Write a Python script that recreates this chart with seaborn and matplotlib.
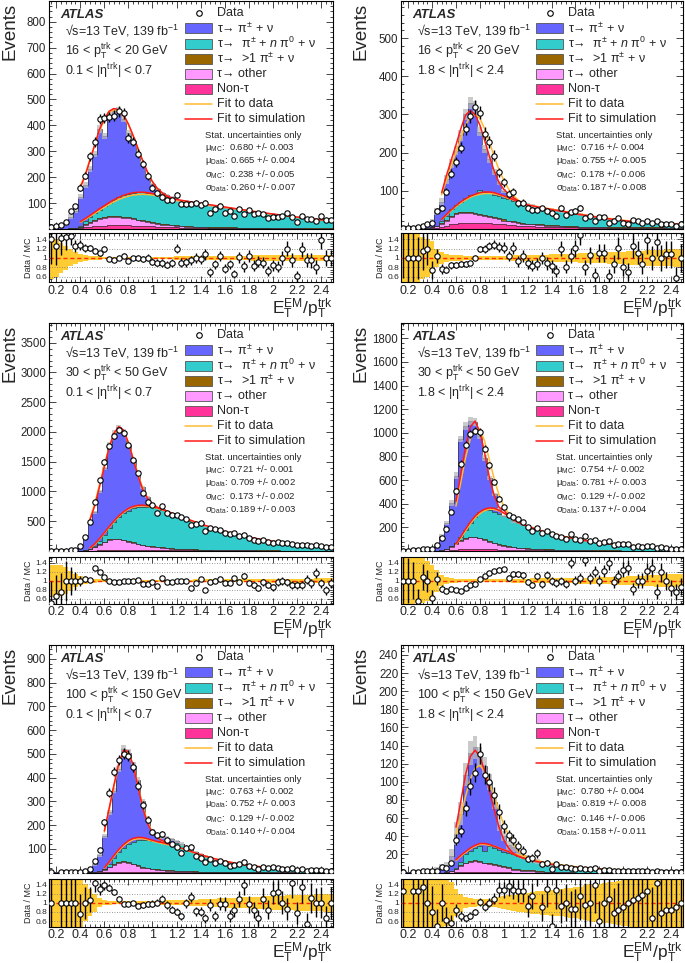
"""
plot.py - E_T^EM / p_T^trk response of isolated tracks (ATLAS-style, 6 panels).
Writes out.png
"""
import matplotlib
matplotlib.use("Agg")
import matplotlib.pyplot as plt
from matplotlib.patches import Rectangle
from matplotlib.ticker import MultipleLocator, AutoMinorLocator, FuncFormatter
import numpy as np
import seaborn as sns

sns.set_theme(style="ticks")
plt.rcParams.update({
    "font.family": ["Liberation Sans", "DejaVu Sans"],
    "mathtext.fontset": "custom",
    "mathtext.rm": "Liberation Sans",
    "mathtext.it": "Liberation Sans:italic",
    "mathtext.bf": "Liberation Sans:bold",
    "mathtext.default": "regular",
    "axes.edgecolor": "black",
    "axes.linewidth": 0.8,
})

# ── Binning (59 bins of 0.04) ────────────────────────────────────────────────
bin_edges = np.round(np.linspace(0.14, 2.50, 60), 2)
bin_centres = 0.5 * (bin_edges[:-1] + bin_edges[1:])

fit_x_040 = [0.40, 0.44, 0.48, 0.52, 0.56, 0.60, 0.64, 0.68, 0.72, 0.76, 0.80, 0.84, 0.88,
             0.92, 0.96, 1.00, 1.04, 1.08, 1.12, 1.16, 1.20,
             1.3, 1.4, 1.5, 1.6, 1.7, 1.8, 1.9, 2.0, 2.1, 2.2, 2.3, 2.4, 2.48]
fit_x_048 = [0.48, 0.52, 0.56, 0.60, 0.64, 0.68, 0.72, 0.76, 0.80, 0.84, 0.88,
             0.92, 0.96, 1.00, 1.04, 1.08, 1.12, 1.16, 1.20,
             1.3, 1.4, 1.5, 1.6, 1.7, 1.8, 1.9, 2.0, 2.1, 2.2, 2.3, 2.4, 2.48]
fit_x_060 = [0.60, 0.64, 0.68, 0.72, 0.76, 0.80, 0.84, 0.88,
             0.92, 0.96, 1.00, 1.04, 1.08, 1.12, 1.16, 1.20,
             1.3, 1.4, 1.5, 1.6, 1.7, 1.8, 1.9, 2.0, 2.1, 2.2, 2.3, 2.4, 2.48]

# ── Panel a: 16-20 GeV, 0.1<|eta|<0.7 ───────────────────────────────────────
a_data = [7, 10, 17, 26, 70, 88, 160, 206, 281, 336,
          425, 428, 432, 437, 455, 446, 350, 337, 290, 250,
          205, 160, 140, 125, 112, 110, 132, 97, 96, 98,
          100, 94, 101, 63, 76, 89, 63, 69, 51, 76,
          59, 73, 56, 60, 56, 43, 48, 45, 52, 60,
          46, 28, 52, 40, 38, 31, 50, 34, 33]
a_pi = [5, 8, 12, 17, 46, 65, 113, 140, 187, 230,
        310, 272, 340, 343, 336, 295, 236, 200, 147, 113,
        65, 37, 22, 12, 6, 2, 0, 0, 0, 0,
        0, 0, 0, 0, 0, 0, 0, 0, 0, 0,
        0, 0, 0, 0, 0, 0, 0, 0, 0, 0,
        0, 0, 0, 0, 0, 0, 0, 0, 0]
a_pi_pi0 = [0, 0, 0, 0, 0, 0, 4, 12, 18, 25,
            32, 41, 50, 60, 71, 82, 91, 99, 106, 108,
            110, 111, 110, 108, 106, 103, 95, 95, 95, 93,
            91, 88, 86, 84, 81, 78, 75, 74, 71, 70,
            67, 65, 62, 61, 58, 56, 54, 52, 49, 47,
            45, 43, 41, 40, 38, 36, 34, 32, 31]
a_multi = [0, 0, 0, 0, 0, 1, 1, 2, 3, 3,
           4, 4, 4, 4, 4, 4, 4, 4, 3, 3,
           3, 3, 3, 3, 3, 3, 3, 3, 2, 2,
           2, 2, 2, 2, 2, 2, 2, 2, 2, 2,
           2, 2, 2, 1, 1, 1, 1, 1, 1, 1,
           1, 1, 1, 1, 1, 1, 1, 1, 1]
a_other = [0, 0, 0, 0, 1, 2, 4, 10, 16, 22,
           27, 30, 32, 33, 32, 30, 27, 24, 21, 18,
           15, 13, 11, 9, 8, 7, 6, 5, 4, 4,
           3, 3, 3, 2, 2, 2, 2, 2, 2, 1,
           1, 1, 1, 1, 1, 1, 1, 1, 1, 1,
           1, 1, 1, 0, 0, 0, 0, 0, 0]
a_nontau = [0, 0, 0, 1, 1, 2, 3, 6, 8, 10,
            12, 13, 14, 15, 15, 14, 14, 13, 12, 12,
            11, 10, 9, 8, 7, 7, 6, 5, 5, 4,
            4, 4, 3, 3, 3, 3, 3, 2, 2, 2,
            2, 2, 2, 2, 2, 2, 1, 1, 1, 1,
            1, 1, 1, 1, 1, 1, 1, 1, 1]
a_mc_err = [45, 40, 32, 25, 18, 12, 8, 6, 5, 4,
            4, 3, 3, 3, 3, 3, 3, 3, 3, 3,
            3, 3, 3, 3, 3, 3, 5, 4, 4, 4,
            4, 4, 4, 5, 5, 5, 5, 5, 5, 5,
            5, 5, 6, 6, 6, 6, 6, 6, 6, 6,
            7, 6, 6, 6, 7, 7, 7, 7, 7]
a_fit_mc_hi = [160, 205, 265, 325, 385, 425, 455, 465, 460, 440, 405, 360, 310, 262, 218, 182,
               157, 140, 128, 120, 114, 106, 99, 92, 85, 78, 71, 64, 58, 52, 46, 41, 36, 33]
a_fit_mc_lo = [28, 40, 52, 65, 78, 90, 102, 113, 122, 130, 136, 140, 142, 142, 140, 137,
               133, 128, 124, 119, 114]
a_fit_data_hi = [165, 210, 268, 325, 380, 420, 450, 460, 455, 435, 402, 358, 310, 262, 218, 182,
                 155, 137, 125, 117, 111, 104, 98, 91, 84, 77, 70, 63, 57, 51, 45, 40, 35, 32]
a_fit_data_lo = [26, 37, 48, 60, 72, 84, 95, 105, 114, 121, 127, 131, 133, 134, 133, 131,
                 128, 124, 120, 116, 111]
a_stats = ["0.680 +/- 0.003", "0.665 +/- 0.004", "0.238 +/- 0.005", "0.260 +/- 0.007"]

# ── Panel b: 16-20 GeV, 1.8<|eta|<2.4 ───────────────────────────────────────
b_data = [2, 2, 3, 5, 8, 12, 15, 48, 55, 98,
          145, 176, 213, 262, 295, 320, 305, 250, 228, 192,
          148, 122, 92, 97, 67, 69, 56, 50, 50, 54,
          46, 41, 35, 55, 36, 44, 47, 55, 28, 35,
          20, 32, 31, 16, 21, 28, 17, 14, 24, 20,
          15, 22, 15, 20, 14, 14, 14, 7, 12]
b_pi = [1, 2, 3, 5, 6, 8, 15, 38, 52, 95,
        120, 143, 173, 218, 242, 226, 153, 114, 89, 60,
        34, 18, 10, 6, 2, 0, 0, 0, 0, 0,
        0, 0, 0, 0, 0, 0, 0, 0, 0, 0,
        0, 0, 0, 0, 0, 0, 0, 0, 0, 0,
        0, 0, 0, 0, 0, 0, 0, 0, 0]
b_pi_pi0 = [0, 0, 0, 0, 0, 0, 0, 0, 5, 11,
            17, 21, 28, 38, 44, 50, 62, 59, 59, 59,
            58, 57, 56, 54, 52, 50, 49, 46, 45, 42,
            42, 40, 38, 37, 36, 35, 32, 31, 29, 27,
            25, 23, 23, 22, 20, 19, 17, 16, 15, 14,
            13, 12, 11, 11, 10, 10, 10, 9, 9]
b_multi = [0, 0, 0, 0, 0, 0, 1, 1, 2, 2,
           3, 3, 3, 3, 3, 3, 3, 3, 3, 3,
           3, 3, 2, 2, 2, 2, 2, 2, 2, 2,
           2, 2, 2, 2, 2, 1, 1, 1, 1, 1,
           1, 1, 1, 1, 1, 1, 1, 1, 1, 1,
           1, 1, 1, 1, 1, 1, 1, 1, 1]
b_other = [0, 0, 0, 0, 0, 1, 2, 4, 8, 14,
           20, 24, 26, 25, 24, 22, 20, 18, 16, 14,
           12, 10, 9, 8, 7, 6, 5, 5, 4, 4,
           3, 3, 3, 3, 2, 2, 2, 2, 2, 2,
           2, 2, 1, 1, 1, 1, 1, 1, 1, 1,
           1, 1, 1, 1, 1, 1, 1, 1, 1]
b_nontau = [0, 0, 0, 0, 1, 1, 2, 3, 5, 8,
            12, 14, 15, 16, 17, 17, 17, 16, 15, 14,
            13, 12, 11, 10, 9, 8, 7, 7, 6, 6,
            5, 5, 5, 4, 4, 4, 4, 3, 3, 3,
            3, 3, 3, 2, 2, 2, 2, 2, 2, 2,
            2, 2, 2, 2, 2, 1, 1, 1, 1]
b_mc_err = [60, 60, 55, 50, 45, 40, 35, 20, 12, 9,
            7, 6, 6, 5, 5, 5, 5, 5, 5, 5,
            5, 5, 5, 6, 6, 6, 7, 7, 7, 7,
            7, 8, 8, 8, 9, 9, 9, 10, 10, 10,
            11, 11, 11, 12, 12, 12, 13, 14, 14, 15,
            15, 16, 16, 17, 17, 18, 18, 19, 20]
b_fit_mc_hi = [95, 140, 180, 220, 262, 298, 310, 300, 272, 232, 190, 152, 122, 104, 92, 82,
               74, 68, 63, 57, 51, 46, 40, 35, 30, 26, 22, 19, 17, 15, 13, 12]
b_fit_mc_lo = [25, 38, 50, 61, 71, 79, 86, 91, 95, 97, 97, 95, 91, 87, 82, 77, 72, 68, 63]
b_fit_data_hi = [90, 128, 165, 200, 238, 272, 295, 300, 290, 262, 228, 190, 155, 128, 105, 88,
                 76, 68, 63, 58, 52, 47, 41, 36, 31, 27, 23, 20, 18, 16, 14, 13]
b_fit_data_lo = [24, 36, 48, 59, 68, 76, 83, 88, 91, 93, 93, 92, 89, 85, 80, 76, 72, 68, 63]
b_stats = ["0.716 +/- 0.004", "0.755 +/- 0.005", "0.178 +/- 0.006", "0.187 +/- 0.008"]

# ── Panel c: 30-50 GeV, 0.1<|eta|<0.7 ───────────────────────────────────────
c_data = [1, 2, 3, 5, 10, 25, 80, 240, 480, 830,
          1200, 1500, 1760, 1930, 2030, 1980, 1775, 1530, 1310, 980,
          830, 765, 645, 750, 645, 610, 600, 570, 540, 430,
          460, 465, 330, 385, 370, 355, 305, 285, 295, 252,
          270, 217, 190, 165, 178, 155, 136, 146, 140, 126,
          110, 103, 96, 102, 89, 103, 78, 61, 70]
c_pi = [2, 3, 4, 5, 10, 25, 77, 219, 439, 570,
        840, 1120, 1410, 1505, 1515, 1380, 1100, 815, 565, 325,
        155, 45, 15, 5, 0, 0, 0, 0, 0, 0,
        0, 0, 0, 0, 0, 0, 0, 0, 0, 0,
        0, 0, 0, 0, 0, 0, 0, 0, 0, 0,
        0, 0, 0, 0, 0, 0, 0, 0, 0]
c_pi_pi0 = [0, 0, 0, 0, 0, 0, 0, 0, 0, 13,
            47, 111, 186, 273, 361, 441, 512, 569, 610, 637,
            653, 655, 645, 635, 612, 583, 559, 533, 507, 480,
            453, 425, 397, 374, 351, 327, 304, 284, 265, 249,
            233, 216, 201, 188, 175, 162, 151, 141, 132, 124,
            115, 108, 101, 94, 88, 82, 78, 73, 69]
c_multi = [0, 0, 0, 0, 0, 0, 0, 1, 2, 4,
           6, 8, 9, 10, 10, 10, 10, 9, 9, 8,
           8, 7, 7, 6, 6, 6, 5, 5, 5, 4,
           4, 4, 4, 3, 3, 3, 3, 3, 3, 2,
           2, 2, 2, 2, 2, 2, 2, 2, 2, 1,
           1, 1, 1, 1, 1, 1, 1, 1, 1]
c_other = [0, 0, 0, 0, 0, 0, 2, 8, 25, 55,
           95, 135, 165, 175, 170, 155, 135, 115, 95, 80,
           65, 55, 46, 38, 32, 27, 23, 20, 17, 15,
           13, 11, 10, 9, 8, 7, 6, 6, 5, 5,
           4, 4, 4, 3, 3, 3, 3, 3, 2, 2,
           2, 2, 2, 2, 2, 2, 1, 1, 1]
c_nontau = [0, 0, 0, 0, 0, 0, 1, 2, 4, 8,
            12, 16, 20, 22, 24, 24, 23, 22, 21, 20,
            19, 18, 17, 16, 15, 14, 13, 12, 11, 11,
            10, 10, 9, 9, 8, 8, 7, 7, 7, 6,
            6, 6, 5, 5, 5, 5, 4, 4, 4, 4,
            4, 3, 3, 3, 3, 3, 3, 3, 3]
c_mc_err = [35, 35, 35, 30, 22, 15, 10, 7, 5, 4,
            3, 2, 2, 2, 2, 2, 2, 2, 2, 2,
            2, 2, 2, 2, 2, 2, 2, 2, 2, 2,
            3, 3, 3, 3, 3, 3, 3, 3, 3, 3,
            3, 3, 3, 3, 3, 3, 4, 4, 4, 4,
            4, 4, 4, 4, 4, 5, 5, 5, 5]
c_fit_mc_hi = [520, 760, 1080, 1420, 1740, 1980, 2090, 2030, 1820, 1540, 1260, 1030, 880, 790,
               735, 700, 668, 635, 605, 530, 455, 390, 330, 278, 233, 196, 165, 138, 116, 98,
               83, 74]
c_fit_mc_lo = [50, 120, 210, 310, 410, 505, 590, 660, 715, 750, 768, 770, 760, 745, 725, 700,
               668, 635, 605]
c_fit_data_hi = [540, 800, 1120, 1450, 1750, 1960, 2050, 2000, 1820, 1560, 1290, 1050, 890, 790,
                 730, 695, 662, 630, 600, 525, 450, 386, 327, 275, 231, 194, 163, 136, 115, 97,
                 82, 73]
c_fit_data_lo = [45, 110, 200, 300, 398, 492, 578, 648, 702, 738, 755, 758, 750, 736, 718, 695,
                 662, 630, 600]
c_stats = ["0.721 +/- 0.001", "0.709 +/- 0.002", "0.173 +/- 0.002", "0.189 +/- 0.003"]

# ── Panel d: 30-50 GeV, 1.8<|eta|<2.4 ───────────────────────────────────────
d_data = [3, 4, 6, 5, 13, 16, 15, 52, 107, 185,
          331, 511, 739, 899, 992, 1020, 1006, 865, 725, 584,
          444, 374, 303, 289, 270, 246, 199, 171, 194, 150,
          171, 140, 124, 121, 105, 148, 99, 97, 125, 84,
          89, 69, 78, 84, 54, 57, 60, 58, 34, 39,
          36, 40, 40, 22, 32, 26, 21, 18, 20]
d_pi = [3, 4, 6, 9, 12, 16, 24, 47, 121, 216,
        364, 569, 827, 885, 865, 805, 647, 441, 275, 149,
        43, 4, 0, 0, 0, 0, 0, 0, 0, 0,
        0, 0, 0, 0, 0, 0, 0, 0, 0, 0,
        0, 0, 0, 0, 0, 0, 0, 0, 0, 0,
        0, 0, 0, 0, 0, 0, 0, 0, 0]
d_pi_pi0 = [0, 0, 0, 0, 0, 0, 0, 0, 0, 0,
            0, 6, 30, 64, 113, 168, 216, 246, 262, 260,
            253, 246, 245, 216, 206, 195, 183, 171, 158, 148,
            137, 127, 119, 110, 103, 97, 91, 85, 79, 73,
            69, 64, 59, 55, 51, 47, 44, 41, 39, 36,
            33, 30, 28, 26, 24, 23, 22, 21, 20]
d_multi = [0, 0, 0, 0, 0, 0, 0, 0, 1, 2,
           3, 4, 5, 6, 6, 6, 6, 6, 5, 5,
           5, 4, 4, 4, 3, 3, 3, 3, 3, 2,
           2, 2, 2, 2, 2, 2, 2, 1, 1, 1,
           1, 1, 1, 1, 1, 1, 1, 1, 1, 1,
           1, 1, 1, 1, 1, 1, 1, 1, 1]
d_other = [0, 0, 0, 0, 0, 0, 0, 2, 6, 15,
           30, 50, 72, 90, 100, 100, 92, 78, 64, 52,
           42, 34, 27, 22, 18, 15, 12, 10, 9, 8,
           7, 6, 5, 5, 4, 4, 3, 3, 3, 3,
           2, 2, 2, 2, 2, 2, 1, 1, 1, 1,
           1, 1, 1, 1, 1, 1, 1, 1, 1]
d_nontau = [0, 0, 0, 0, 0, 0, 0, 1, 2, 4,
            7, 10, 13, 15, 16, 16, 16, 15, 14, 13,
            12, 11, 10, 9, 8, 7, 7, 6, 6, 5,
            5, 5, 4, 4, 4, 3, 3, 3, 3, 3,
            2, 2, 2, 2, 2, 2, 2, 2, 1, 1,
            1, 1, 1, 1, 1, 1, 1, 1, 1]
d_mc_err = [60, 60, 55, 50, 50, 45, 35, 25, 12, 8,
            6, 4, 3, 3, 3, 3, 3, 3, 3, 3,
            3, 3, 3, 4, 4, 4, 4, 5, 5, 5,
            5, 5, 6, 6, 6, 6, 6, 7, 7, 7,
            7, 8, 8, 8, 9, 9, 9, 10, 10, 11,
            11, 12, 12, 13, 13, 14, 14, 15, 15]
d_fit_mc_hi = [420, 650, 880, 1050, 1100, 1010, 830, 620, 470, 370, 345, 300, 268, 245, 226, 210,
               175, 145, 122, 102, 86, 72, 60, 50, 42, 36, 30, 26, 23]
d_fit_mc_lo = [60, 120, 185, 245, 295, 332, 355, 365, 362, 345, 322, 296, 266, 245, 226, 210]
d_fit_data_hi = [380, 580, 790, 950, 1030, 1030, 930, 770, 610, 475, 380, 318, 278, 250, 228,
                 211, 177, 147, 124, 104, 88, 74, 62, 52, 44, 37, 31, 27, 24]
d_fit_data_lo = [55, 110, 170, 230, 280, 318, 342, 354, 352, 340, 320, 296, 270, 248, 228, 211]
d_stats = ["0.754 +/- 0.002", "0.781 +/- 0.003", "0.129 +/- 0.002", "0.137 +/- 0.004"]

# ── Panel e: 100-150 GeV, 0.1<|eta|<0.7 ─────────────────────────────────────
e_data = [1, 0, 1, 2, 2, 3, 3, 8, 16, 50,
          94, 211, 336, 425, 475, 500, 492, 445, 366, 285,
          223, 172, 158, 161, 138, 119, 106, 84, 105, 109,
          70, 61, 44, 57, 38, 47, 42, 28, 31, 37,
          43, 27, 22, 16, 24, 17, 22, 21, 16, 13,
          20, 10, 16, 6, 11, 10, 9, 6, 8]
e_pi = [1, 1, 1, 2, 2, 3, 4, 8, 13, 32,
        64, 139, 218, 285, 351, 415, 385, 320, 254, 162,
        93, 41, 26, 18, 17, 14, 8, 0, 0, 0,
        0, 0, 0, 0, 0, 0, 0, 0, 0, 0,
        0, 0, 0, 0, 0, 0, 0, 0, 0, 0,
        0, 0, 0, 0, 0, 0, 0, 0, 0]
e_pi_pi0 = [0, 0, 0, 0, 0, 0, 0, 0, 0, 0,
            0, 1, 10, 25, 41, 58, 77, 93, 105, 114,
            117, 118, 118, 119, 118, 117, 116, 112, 99, 89,
            80, 72, 63, 56, 50, 44, 40, 37, 34, 31,
            28, 25, 23, 21, 19, 18, 16, 15, 15, 14,
            13, 12, 12, 11, 10, 10, 9, 9, 8]
e_multi = [0, 0, 0, 0, 0, 0, 0, 0, 0, 0,
           1, 1, 2, 2, 2, 3, 3, 3, 3, 3,
           3, 2, 2, 2, 2, 2, 2, 2, 2, 2,
           2, 1, 1, 1, 1, 1, 1, 1, 1, 1,
           1, 1, 1, 1, 1, 1, 1, 1, 0, 0,
           0, 0, 0, 0, 0, 0, 0, 0, 0]
e_other = [0, 0, 0, 0, 0, 0, 0, 0, 1, 2,
           5, 10, 20, 30, 38, 40, 36, 30, 24, 18,
           14, 11, 9, 7, 6, 5, 4, 4, 3, 3,
           3, 2, 2, 2, 2, 2, 1, 1, 1, 1,
           1, 1, 1, 1, 1, 1, 1, 1, 1, 1,
           1, 1, 0, 0, 0, 0, 0, 0, 0]
e_nontau = [0, 0, 0, 0, 0, 0, 0, 0, 1, 1,
            2, 2, 3, 3, 4, 4, 4, 4, 4, 3,
            3, 3, 3, 2, 2, 2, 2, 2, 2, 2,
            1, 1, 1, 1, 1, 1, 1, 1, 1, 1,
            1, 1, 1, 1, 1, 0, 0, 0, 0, 0,
            0, 0, 0, 0, 0, 0, 0, 0, 0]
e_mc_err = [60, 60, 60, 60, 60, 60, 55, 40, 30, 20,
            10, 6, 4, 3, 3, 3, 3, 3, 3, 3,
            4, 4, 4, 4, 5, 5, 5, 6, 6, 7,
            7, 8, 8, 9, 9, 10, 10, 11, 11, 12,
            12, 12, 13, 13, 14, 14, 15, 15, 15, 16,
            16, 17, 17, 18, 18, 19, 19, 20, 20]
e_fit_mc_hi = [175, 270, 370, 460, 515, 510, 450, 360, 270, 205, 165, 145, 134, 126, 118, 110,
               92, 75, 60, 48, 38, 30, 24, 19, 15, 12, 10, 8, 7]
e_fit_mc_lo = [20, 45, 72, 97, 118, 134, 144, 148, 147, 142, 136, 130, 126, 121, 115, 110]
e_fit_data_hi = [170, 265, 362, 452, 505, 505, 450, 365, 278, 212, 168, 146, 133, 124, 116, 108,
                 91, 74, 60, 48, 38, 30, 24, 19, 15, 12, 10, 8, 7]
e_fit_data_lo = [18, 42, 68, 92, 113, 128, 138, 142, 142, 138, 132, 127, 122, 118, 113, 108]
e_stats = ["0.763 +/- 0.002", "0.752 +/- 0.003", "0.129 +/- 0.002", "0.140 +/- 0.004"]

# ── Panel f: 100-150 GeV, 1.8<|eta|<2.4 ─────────────────────────────────────
f_data = [1, 0, 1, 1, 2, 2, 2, 2, 6, 5,
          10, 36, 46, 71, 95, 110, 131, 108, 100, 85,
          67, 51, 41, 36, 29, 24, 15, 16, 21, 9,
          11, 4, 9, 6, 6, 5, 4, 5, 4, 4,
          5, 2, 3, 3, 2, 2, 2, 2, 2, 2,
          2, 2, 1, 2, 1, 1, 1, 1, 1]
f_pi = [0.8, 0.6, 0.8, 0.8, 1.5, 2, 2.5, 4, 6, 7,
        16, 38, 53, 88, 108, 111, 99, 94, 71, 51,
        27, 17, 9, 8, 5, 2, 0, 0, 0, 0,
        0, 0, 0, 0, 0, 0, 0, 0, 0, 0,
        0, 0, 0, 0, 0, 0, 0, 0, 0, 0,
        0, 0, 0, 0, 0, 0, 0, 0, 0]
f_pi_pi0 = [0, 0, 0, 0, 0, 0, 0, 0, 0, 0,
            0, 1, 4, 9, 11, 13, 16, 13, 19, 18,
            17, 16, 15, 16, 14.5, 14.5, 13.5, 11.5, 10.5, 8.5,
            7.5, 7, 6, 5.5, 5, 4.8, 4.6, 4.4, 4.2, 4,
            3.6, 3.3, 3, 2.8, 2.6, 2.4, 2.2, 2, 1.9, 1.8,
            1.7, 1.6, 1.5, 1.4, 1.3, 1.2, 1.2, 1.1, 1.0]
f_multi = [0, 0, 0, 0, 0, 0, 0, 0, 0, 0,
           0, 0, 1, 1, 1, 1, 1, 1, 1, 1,
           1, 1, 1, 1, 0.5, 0.5, 0.5, 0.5, 0.5, 0.5,
           0, 0, 0, 0, 0, 0, 0, 0, 0, 0,
           0, 0, 0, 0, 0, 0, 0, 0, 0, 0,
           0, 0, 0, 0, 0, 0, 0, 0, 0]
f_other = [0, 0, 0, 0, 0, 0, 0, 0, 0, 1,
           2, 3, 6, 9, 11, 12, 11, 9, 8, 7,
           6, 5, 4, 3, 3, 2, 2, 2, 1, 1,
           1, 1, 1, 1, 1, 1, 0, 0, 0, 0,
           0, 0, 0, 0, 0, 0, 0, 0, 0, 0,
           0, 0, 0, 0, 0, 0, 0, 0, 0]
f_nontau = [0, 0, 0, 0, 0, 0, 0, 0, 0, 0,
            0, 1, 1, 1, 1, 1, 1, 1, 1, 1,
            1, 1, 1, 0, 0, 0, 0, 0, 0, 0,
            0, 0, 0, 0, 0, 0, 0, 0, 0, 0,
            0, 0, 0, 0, 0, 0, 0, 0, 0, 0,
            0, 0, 0, 0, 0, 0, 0, 0, 0]
f_mc_err = [60, 60, 60, 60, 60, 60, 60, 60, 55, 50,
            45, 30, 20, 12, 10, 9, 8, 8, 9, 10,
            12, 14, 16, 18, 20, 20, 22, 24, 25, 26,
            27, 28, 30, 30, 32, 33, 34, 35, 38, 40,
            42, 42, 44, 45, 46, 48, 50, 50, 55, 60,
            60, 60, 60, 60, 60, 60, 60, 60, 60]
f_fit_mc_hi = [50, 78, 108, 128, 135, 128, 112, 90, 69, 50, 36, 27, 21, 18, 16, 14.5,
               11.5, 9, 7.2, 5.8, 4.7, 3.8, 3.1, 2.6, 2.2, 1.9, 1.6, 1.4, 1.3]
f_fit_mc_lo = [14, 19, 23, 27, 30, 32, 32, 31, 29, 27, 25, 23, 20, 18, 16, 14.5]
f_fit_data_hi = [42, 62, 84, 103, 115, 118, 112, 98, 84, 68, 53, 41, 31, 24, 20, 16.5,
                 12.5, 10, 8, 6.4, 5.2, 4.2, 3.4, 2.8, 2.3, 2.0, 1.7, 1.5, 1.4]
f_fit_data_lo = [13, 18, 22, 26, 29, 31, 31, 30, 29, 27, 25, 23, 21, 19.5, 18, 16.5]
f_stats = ["0.780 +/- 0.004", "0.819 +/- 0.008", "0.146 +/- 0.006", "0.158 +/- 0.011"]

PT_LABELS = ["16 < p$_{T}^{trk}$ < 20 GeV", "30 < p$_{T}^{trk}$ < 50 GeV",
             "100 < p$_{T}^{trk}$ < 150 GeV"]
ETA_LABELS = ["0.1 < |η$^{trk}$| < 0.7", "1.8 < |η$^{trk}$| < 2.4"]

# ── Styling ───────────────────────────────────────────────────────────────────
STACK = [("nontau", "#ff3399"), ("other", "#ff99ff"), ("multi", "#996600"),
         ("pi_pi0", "#33cccc"), ("pi", "#6666ff")]
FIT_DATA = "#ffbb33"
FIT_MC = "#ff1a1a"
OUTLINE = "#333333"

W, H = 685, 963
COLS = [(49, 284, -0.106), (401, 282, -0.113)]
# (main top, main bottom), (ratio top, ratio bottom), x-label baseline below ratio (px)
ROWS = [((1, 229), (233, 282.5), 31), ((323, 551), (557, 604), 31),
        ((645, 872.5), (878.5, 926.5), 31)]

LEGEND = [
    ("marker", None, "Data"),
    ("box", "#6666ff", r"τ→ π$^{\pm}$ + ν"),
    ("box", "#33cccc", r"τ→  π$^{\pm}$ + $\mathit{n}$ π$^{0}$ + ν"),
    ("box", "#996600", r"τ→  >1 π$^{\pm}$ + ν"),
    ("box", "#ff99ff", "τ→ other"),
    ("box", "#ff3399", "Non-τ"),
    ("line", FIT_DATA, "Fit to data"),
    ("line", FIT_MC, "Fit to simulation"),
]


def fmt_g(v, _):
    return f"{v:g}"


def draw_panel(fig, col, row, p):
    x0, w, ylab_x = COLS[col]
    (mt, mb), (rt, rb), xlab_px = ROWS[row]
    ax = fig.add_axes([x0 / W, 1 - mb / H, w / W, (mb - mt) / H])
    axr = fig.add_axes([x0 / W, 1 - rb / H, w / W, (rb - rt) / H])

    # stacked simulation
    base = np.zeros(len(bin_centres))
    tops = []
    for key, colour in STACK:
        vals = np.asarray(p[key], float)
        if len(vals) != len(bin_centres):
            raise ValueError(f"{p['name']} {key}: {len(vals)} values")
        top = base + vals
        ax.stairs(top, bin_edges, baseline=base, fill=True, color=colour, lw=0, zorder=1)
        tops.append(top)
        base = top
    for top in tops:
        ax.stairs(top, bin_edges, baseline=None, color=OUTLINE, lw=0.5, zorder=2)
    total = base
    rel = np.asarray(p["mc_err"], float) / 100.0
    ax.stairs(total * (1 + rel), bin_edges, baseline=total * (1 - rel), fill=True,
              color="#b9b9b9", alpha=0.75, lw=0, zorder=3)

    # fits
    fx = np.asarray(p["fit_x"], float)
    for hi, lo, colour in ((p["fit_data_hi"], p["fit_data_lo"], FIT_DATA),
                           (p["fit_mc_hi"], p["fit_mc_lo"], FIT_MC)):
        sns.lineplot(x=fx, y=hi, color=colour, lw=1.1, ax=ax, sort=False,
                     estimator=None, zorder=4)
        sns.lineplot(x=fx[:len(lo)], y=lo, color=colour, lw=1.1, ax=ax, sort=False,
                     estimator=None, zorder=4)

    # data
    d = np.asarray(p["data"], float)
    m = d > 0
    ax.errorbar(bin_centres[m], d[m], yerr=np.sqrt(d[m]), fmt="none", ecolor="black",
                elinewidth=1.0, zorder=5)
    sns.scatterplot(x=bin_centres[m], y=d[m], ax=ax, marker="o", s=15, color="white",
                    edgecolor="black", linewidth=0.8, zorder=6, legend=False)

    ax.set_xlim(bin_edges[0], bin_edges[-1])
    ax.set_ylim(0, p["ymax"])
    ax.xaxis.set_major_locator(MultipleLocator(0.2))
    ax.xaxis.set_minor_locator(MultipleLocator(0.04))
    ax.yaxis.set_major_locator(MultipleLocator(p["ystep"]))
    ax.yaxis.set_minor_locator(AutoMinorLocator(5))
    ax.yaxis.set_major_formatter(FuncFormatter(lambda v, _: "" if abs(v) < 1e-9 else f"{v:g}"))
    ax.tick_params(which="both", direction="in", top=True, right=True, labelbottom=False,
                   width=0.6, labelsize=8.3, pad=2)
    ax.tick_params(which="major", length=5)
    ax.tick_params(which="minor", length=2.5)
    ax.set_xlabel("")
    ax.set_ylabel("Events", fontsize=13.5, loc="top")
    ax.yaxis.set_label_coords(ylab_x, 0.99)

    # text
    ax.text(0.039, 0.939, "ATLAS", fontsize=9.5, fontweight="bold", fontstyle="italic",
            va="center", transform=ax.transAxes)
    ax.text(0.056, 0.868, "√s=13 TeV, 139 fb$^{-1}$", fontsize=9, va="center",
            transform=ax.transAxes)
    ax.text(0.056, 0.776, PT_LABELS[row], fontsize=9, va="center", transform=ax.transAxes)
    ax.text(0.056, 0.693, ETA_LABELS[col], fontsize=9, va="center", transform=ax.transAxes)

    # legend
    for k, (kind, colour, label) in enumerate(LEGEND):
        yc = 0.946 - k * 0.0665
        if kind == "marker":
            ax.plot([0.527], [yc], "o", ms=4, mfc="white", mec="black", mew=0.8,
                    transform=ax.transAxes, zorder=7)
        elif kind == "box":
            ax.add_patch(Rectangle((0.479, yc - 0.022), 0.095, 0.044, transform=ax.transAxes,
                                   facecolor=colour, edgecolor="#555555", lw=0.6, zorder=7))
        else:
            ax.plot([0.479, 0.574], [yc, yc], color=colour, lw=1.1,
                    transform=ax.transAxes, zorder=7)
        ax.text(0.592, yc, label, fontsize=9, va="center", transform=ax.transAxes, zorder=7)

    mu_mc, mu_data, sig_mc, sig_data = p["stats"]
    stat_lines = [("Stat. uncertainties only", 0.408),
                  (f"μ$_{{MC}}$:  {mu_mc}", 0.358),
                  (f"μ$_{{Data}}$: {mu_data}", 0.302),
                  (f"σ$_{{MC}}$:  {sig_mc}", 0.238),
                  (f"σ$_{{Data}}$: {sig_data}", 0.180)]
    for txt, yv in stat_lines:
        ax.text(0.548, yv, txt, fontsize=6.8, va="center", transform=ax.transAxes, zorder=7)

    # ratio
    axr.stairs(1 + rel, bin_edges, baseline=1 - rel, fill=True, color="#ffcc33", lw=0, zorder=1)
    for yv in (0.6, 0.8, 1.2, 1.4):
        axr.axhline(yv, color="#777777", ls=(0, (1, 2)), lw=0.6, zorder=2)
    axr.axhline(1.0, color="#ff2a00", ls=(0, (3, 2)), lw=1.0, zorder=3)
    mr = m & (total > 0)
    ratio = d[mr] / total[mr]
    rerr = np.sqrt(d[mr]) / total[mr]
    axr.errorbar(bin_centres[mr], ratio, yerr=rerr, fmt="none", ecolor="black",
                 elinewidth=1.0, zorder=4)
    sns.scatterplot(x=bin_centres[mr], y=ratio, ax=axr, marker="o", s=15, color="white",
                    edgecolor="black", linewidth=0.8, zorder=5, legend=False)
    axr.set_xlim(bin_edges[0], bin_edges[-1])
    axr.set_ylim(0.48, 1.53)
    axr.xaxis.set_major_locator(MultipleLocator(0.2))
    axr.xaxis.set_minor_locator(MultipleLocator(0.04))
    axr.yaxis.set_major_locator(MultipleLocator(0.2))
    axr.yaxis.set_minor_locator(AutoMinorLocator(4))
    axr.xaxis.set_major_formatter(FuncFormatter(fmt_g))
    axr.yaxis.set_major_formatter(FuncFormatter(fmt_g))
    axr.tick_params(which="both", direction="in", top=True, right=True, width=0.6, pad=1.5)
    axr.tick_params(axis="x", labelsize=9)
    axr.tick_params(axis="y", labelsize=6)
    axr.tick_params(which="major", length=4)
    axr.tick_params(which="minor", length=2)
    axr.set_ylabel("Data / MC", fontsize=6.5)
    axr.yaxis.set_label_coords(-0.055, 0.5)
    axr.set_xlabel(r"$E_{T}^{EM}/p_{T}^{trk}$", fontsize=12.5, loc="right")
    axr.xaxis.label.set_verticalalignment("baseline")
    axr.xaxis.set_label_coords(1.0, -xlab_px / (rb - rt))


def panel(name, prefix, fit_x, ymax, ystep):
    g = globals()
    keys = ["data", "pi", "pi_pi0", "multi", "other", "nontau", "mc_err",
            "fit_mc_hi", "fit_mc_lo", "fit_data_hi", "fit_data_lo", "stats"]
    p = {k: g[f"{prefix}_{k}"] for k in keys}
    p.update(name=name, fit_x=fit_x, ymax=ymax, ystep=ystep)
    return p


panels = [
    (0, 0, panel("a", "a", fit_x_040, 880, 100)),
    (1, 0, panel("b", "b", fit_x_048, 597, 100)),
    (0, 1, panel("c", "c", fit_x_048, 3830, 500)),
    (1, 1, panel("d", "d", fit_x_060, 1930, 200)),
    (0, 2, panel("e", "e", fit_x_060, 958, 100)),
    (1, 2, panel("f", "f", fit_x_060, 251, 20)),
]

fig = plt.figure(figsize=(W / 100, H / 100), dpi=100)
for col, row, p in panels:
    draw_panel(fig, col, row, p)
fig.savefig("out.png", dpi=100)
plt.close(fig)
